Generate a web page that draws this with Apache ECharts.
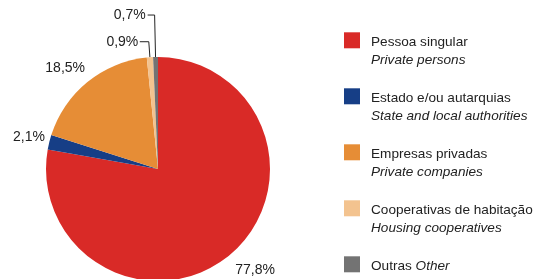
<!DOCTYPE html>
<html>
<head>
<meta charset="utf-8">
<script src="https://cdn.jsdelivr.net/npm/echarts@6/dist/echarts.min.js"></script>
<style>
  html, body { margin: 0; padding: 0; background: #fff; }
  #chart { width: 536px; height: 279px; }
</style>
</head>
<body>
<div id="chart"></div>
<script>
'use strict';

// dados (% do total)
var categories = ['Pessoa singular', 'Estado e/ou autarquias', 'Empresas privadas', 'Cooperativas de habitação', 'Outras'];
var categoriesEn = ['Private persons', 'State and local authorities', 'Private companies', 'Housing cooperatives', 'Other'];
var values = [77.8, 2.1, 18.5, 0.9, 0.7];
var colors = ['#D92A27', '#163E86', '#E68D36', '#F3C38F', '#737373'];

// afinação das etiquetas (comprimento da linha, segundo troço, distância)
var labelLen = [20, 21.6, 18.1, 15.6, 42];
var labelLen2 = [0, 0, 0, 9, 7];
var labelDist = [-7.6, -16.7, -9, 1.5, 2];
var labelLineShow = [false, false, false, true, true];

var myChart = echarts.init(document.getElementById('chart'));

var pieData = values.map(function (v, i) {
    return {
        name: categories[i],
        value: v,
        itemStyle: { color: colors[i] },
        label: { distanceToLabelLine: labelDist[i] },
        labelLine: { show: labelLineShow[i], length: labelLen[i], length2: labelLen2[i] }
    };
});

var option = {
    animation: false,
    legend: {
        orient: 'vertical',
        left: 339,
        top: 12.3,
        height: 400,
        icon: 'rect',
        itemWidth: 16,
        itemHeight: 16,
        itemGap: 6,
        selectedMode: false,
        data: categories,
        // linha vazia em cima para o quadrado ficar alinhado com a 1.ª linha
        formatter: function (name) {
            var i = categories.indexOf(name);
            if (i === categories.length - 1) {
                return '{c| }\n{a|' + name + ' }{b|' + categoriesEn[i] + '}\n{b| }';
            }
            return '{c| }\n{a|' + name + '}\n{b|' + categoriesEn[i] + '}';
        },
        textStyle: {
            padding: [0, 0, 0, 6],
            rich: {
                a: { fontFamily: 'Liberation Sans', fontSize: 13.6, lineHeight: 18, color: '#222' },
                b: { fontFamily: 'Liberation Sans', fontSize: 13.6, lineHeight: 18, fontStyle: 'italic', color: '#222' },
                c: { fontSize: 10, lineHeight: 22 }
            }
        }
    },
    series: [{
        type: 'pie',
        left: 0,
        top: 0,
        width: 536,
        height: 279,
        center: [158, 169],
        radius: 112,
        startAngle: 90,
        clockwise: true,
        avoidLabelOverlap: false,
        emphasis: { disabled: true },
        label: {
            position: 'outside',
            fontFamily: 'Liberation Sans',
            fontSize: 14,
            color: '#222',
            formatter: function (p) {
                return p.value.toFixed(1).replace('.', ',') + '%';
            }
        },
        labelLine: {
            lineStyle: { color: '#222', width: 1 },
            smooth: false
        },
        data: pieData
    }]
};

myChart.setOption(option);
</script>
</body>
</html>
